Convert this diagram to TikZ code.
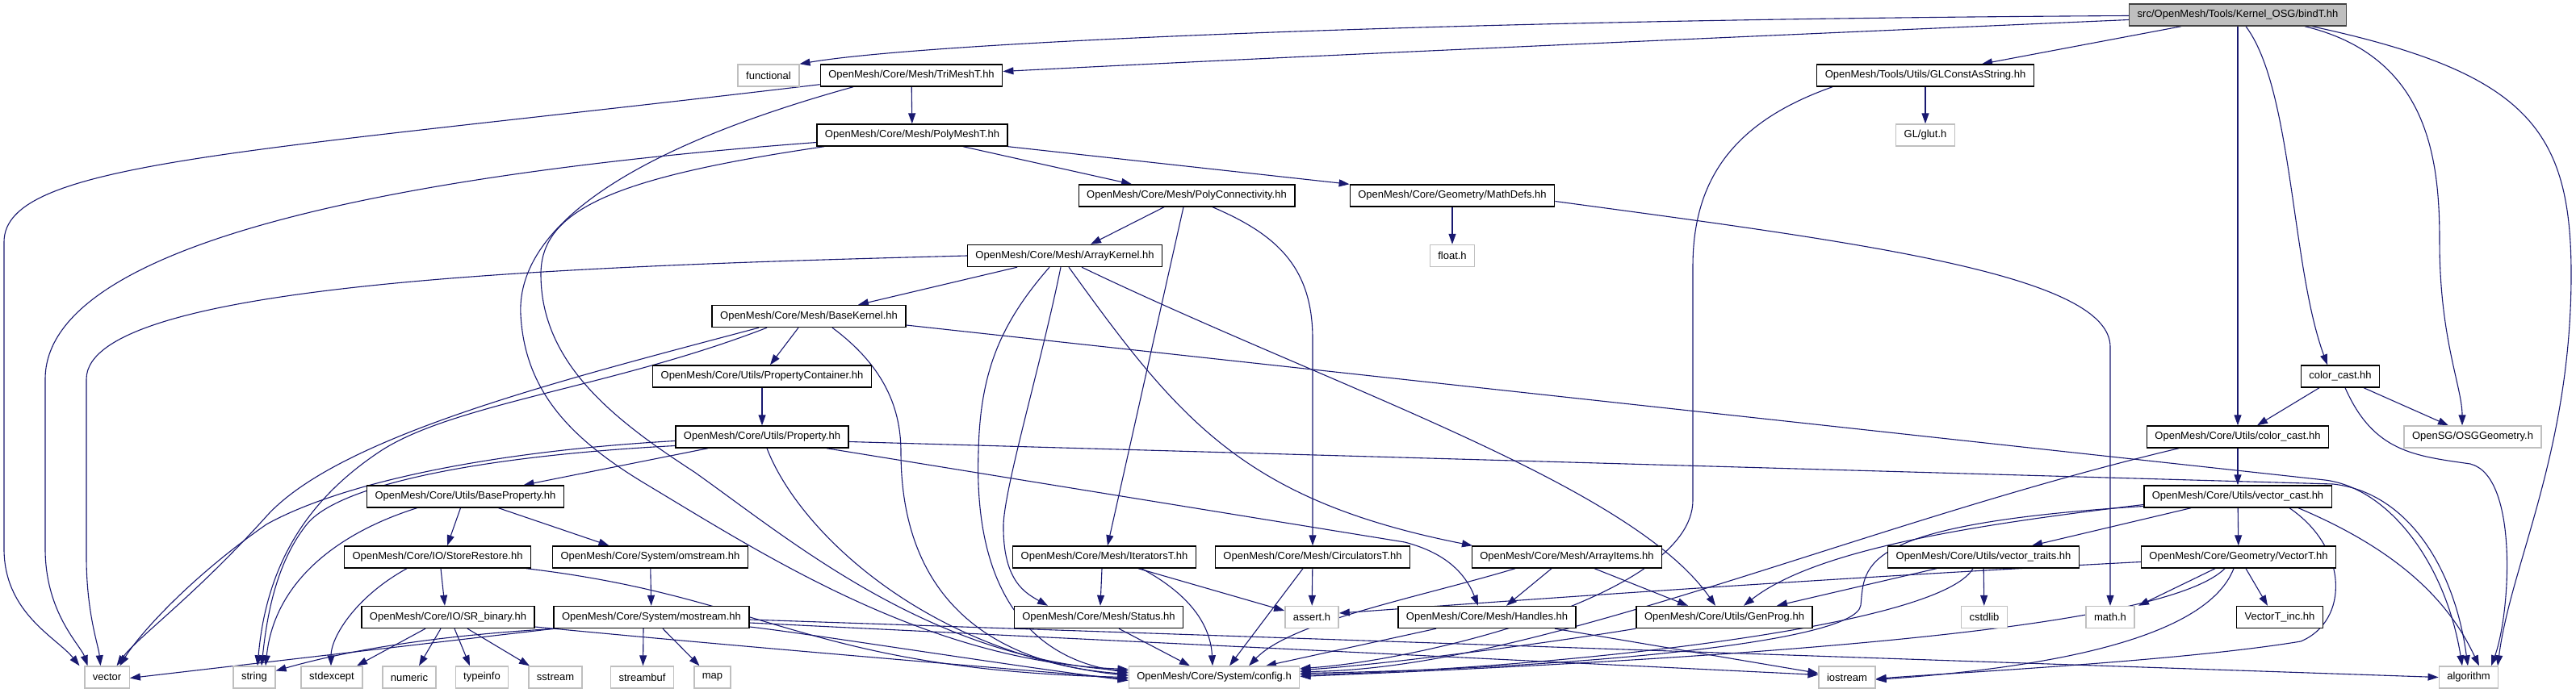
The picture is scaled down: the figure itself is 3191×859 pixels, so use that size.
\documentclass[tikz,border=0pt]{standalone}
\usepackage{fontspec}
\setmainfont{Liberation Sans}
\usetikzlibrary{arrows.meta,backgrounds}
\definecolor{depblue}{HTML}{191970}
\tikzset{
  filebox/.style={draw=black, line width=1.4pt, fill=white, minimum height=27pt, inner xsep=10pt, inner ysep=0pt, font=\fontsize{13}{15}\selectfont},
  rootbox/.style={filebox, fill=black!25, draw=black!75},
  sysbox/.style={filebox, draw=black!25},
  dep/.style={draw=depblue, line width=1.1pt, -{Triangle[length=13pt,width=9pt]}}
}

\begin{document}
\begin{tikzpicture}[x=1pt,y=-1pt]
  \useasboundingbox (0,0) rectangle (3191,859);

  \node[rootbox] (root) at (2772,18.5) {src/OpenMesh/Tools/Kernel\_OSG/bindT.hh};
  \node[sysbox] (functional) at (952,93.5) {functional};
  \node[filebox] (tri) at (1129,93.5) {OpenMesh/Core/Mesh/TriMeshT.hh};
  \node[filebox] (glconst) at (2385,93.5) {OpenMesh/Tools/Utils/GLConstAsString.hh};
  \node[filebox] (poly) at (1130,167.5) {OpenMesh/Core/Mesh/PolyMeshT.hh};
  \node[sysbox] (glut) at (2385,167.5) {GL/glut.h};
  \node[filebox] (polycon) at (1470,242.5) {OpenMesh/Core/Mesh/PolyConnectivity.hh};
  \node[filebox] (mathdefs) at (1799,242.5) {OpenMesh/Core/Geometry/MathDefs.hh};
  \node[filebox] (arraykernel) at (1319,317) {OpenMesh/Core/Mesh/ArrayKernel.hh};
  \node[sysbox] (floath) at (1799,317) {float.h};
  \node[filebox] (basekernel) at (1002,392) {OpenMesh/Core/Mesh/BaseKernel.hh};
  \node[filebox] (propcont) at (944,466.5) {OpenMesh/Core/Utils/PropertyContainer.hh};
  \node[filebox] (colorcastl) at (2899,466.5) {color\_cast.hh};
  \node[filebox] (property) at (944,541.5) {OpenMesh/Core/Utils/Property.hh};
  \node[filebox] (colorcast) at (2772,541.5) {OpenMesh/Core/Utils/color\_cast.hh};
  \node[sysbox] (osg) at (3063,541.5) {OpenSG/OSGGeometry.h};
  \node[filebox] (baseprop) at (576.5,615.5) {OpenMesh/Core/Utils/BaseProperty.hh};
  \node[filebox] (vectorcast) at (2772,615.5) {OpenMesh/Core/Utils/vector\_cast.hh};
  \node[filebox] (storerest) at (542,690.5) {OpenMesh/Core/IO/StoreRestore.hh};
  \node[filebox] (omstream) at (805.5,690.5) {OpenMesh/Core/System/omstream.hh};
  \node[filebox] (iterators) at (1368,690.5) {OpenMesh/Core/Mesh/IteratorsT.hh};
  \node[filebox] (circulators) at (1626,690.5) {OpenMesh/Core/Mesh/CirculatorsT.hh};
  \node[filebox] (arrayitems) at (1941,690.5) {OpenMesh/Core/Mesh/ArrayItems.hh};
  \node[filebox] (vectortraits) at (2457,690.5) {OpenMesh/Core/Utils/vector\_traits.hh};
  \node[filebox] (vectort) at (2773,690.5) {OpenMesh/Core/Geometry/VectorT.hh};
  \node[filebox] (srbinary) at (555,765) {OpenMesh/Core/IO/SR\_binary.hh};
  \node[filebox] (mostream) at (807,765) {OpenMesh/Core/System/mostream.hh};
  \node[filebox] (status) at (1361,765) {OpenMesh/Core/Mesh/Status.hh};
  \node[sysbox] (asserth) at (1625,765) {assert.h};
  \node[filebox] (handles) at (1842,765) {OpenMesh/Core/Mesh/Handles.hh};
  \node[filebox] (genprog) at (2136,765) {OpenMesh/Core/Utils/GenProg.hh};
  \node[sysbox] (cstdlib) at (2458,765) {cstdlib};
  \node[sysbox] (mathh) at (2614,765) {math.h};
  \node[filebox] (vectortinc) at (2824,765) {VectorT\_inc.hh};
  \node[sysbox] (vec) at (132.5,839.5) {vector};
  \node[sysbox] (str) at (315,839.5) {string};
  \node[sysbox] (stdexc) at (411,839.5) {stdexcept};
  \node[sysbox] (numeric) at (507,839.5) {numeric};
  \node[sysbox] (typeinfo) at (597,839.5) {typeinfo};
  \node[sysbox] (sstream) at (688,839.5) {sstream};
  \node[sysbox] (streambuf) at (795.5,839.5) {streambuf};
  \node[sysbox] (mapi) at (882.5,839.5) {map};
  \node[sysbox] (config) at (1504,839.5) {OpenMesh/Core/System/config.h};
  \node[sysbox] (iostream) at (2288,839.5) {iostream};
  \node[sysbox] (algo) at (3058,839.5) {algorithm};

  \begin{scope}[on background layer]
  \draw[dep] ([yshift=-1]root.west) .. controls (1800,24) and (1150,52) .. (functional.north east);
  \draw[dep] ([yshift=-6]root.west) .. controls (2100,48) and (1600,70) .. ([yshift=5]tri.east);
  \draw[dep] ([xshift=-70]root.south) -- ([xshift=70]glconst.north);
  \draw[dep] (root) -- (colorcast);
  \draw[dep] ([xshift=10]root.south) .. controls (2840,110) and (2838,330) .. ([xshift=-16]colorcastl.north);
  \draw[dep] ([xshift=83]root.south) .. controls (3010,70) and (3022,200) .. (3022,300) .. controls (3022,420) and (3050,480) .. ([xshift=-13]osg.north);
  \draw[dep] ([xshift=92]root.south) .. controls (3130,90) and (3185,160) .. (3185,340) .. controls (3185,560) and (3110,700) .. ([xshift=36]algo.north);

  \draw[dep] (tri) -- (poly);
  \draw[dep] ([yshift=3]tri.south west) .. controls (300,190) and (5,200) .. (5,300) -- (5,680) .. controls (5,760) and (70,790) .. ([xshift=-34]vec.north);
  \draw[dep] ([xshift=-72]tri.south) .. controls (760,190) and (640,290) .. (645,390) .. controls (650,480) and (700,540) .. (800,600) .. controls (950,690) and (1150,820) .. ([yshift=10]config.west);

  \draw[dep] ([yshift=-9]poly.west) .. controls (500,215) and (56,300) .. (56,470) -- (56,680) .. controls (56,760) and (100,800) .. ([xshift=-24]vec.north);
  \draw[dep] ([xshift=-109]poly.south) .. controls (760,220) and (670,260) .. (670,340) .. controls (670,450) and (760,520) .. (860,585) .. controls (980,670) and (1150,815) .. ([yshift=8]config.west);
  \draw[dep] ([xshift=63]poly.south) -- ([xshift=-68]polycon.north);
  \draw[dep] (poly.south east) -- (mathdefs.north west);

  \draw[dep] ([xshift=-28]polycon.south) -- ([xshift=32]arraykernel.north);
  \draw[dep] ([xshift=-4]polycon.south) -- ([xshift=4]iterators.north);
  \draw[dep] ([xshift=32]polycon.south) .. controls (1580,290) and (1626,330) .. (1626,420) -- (circulators);

  \draw[dep] (mathdefs) -- (floath);
  \draw[dep] ([yshift=-7]mathdefs.east) .. controls (2300,300) and (2614,340) .. (2614,430) -- (mathh);

  \draw[dep] (glconst) -- (glut);
  \draw[dep] ([xshift=-115]glconst.south) .. controls (2150,150) and (2097,220) .. (2097,330) -- (2097,620) .. controls (2097,740) and (1750,820) .. ([yshift=11]config.east);

  \draw[dep] ([xshift=-59]arraykernel.south) -- ([xshift=61]basekernel.north);
  \draw[dep] (arraykernel.west) .. controls (700,330) and (107,350) .. (107,470) -- (107,690) .. controls (107,760) and (122,800) .. ([xshift=-8]vec.north);
  \draw[dep] ([xshift=-19]arraykernel.south) .. controls (1240,400) and (1214,460) .. (1212,560) .. controls (1205,760) and (1300,820) .. ([yshift=6]config.west);
  \draw[dep] ([xshift=-5]arraykernel.south) .. controls (1290,450) and (1245,600) .. (1243,650) .. controls (1242,720) and (1270,735) .. ([xshift=-63]status.north);
  \draw[dep] ([xshift=5]arraykernel.south) .. controls (1460,520) and (1540,620) .. ([xshift=-117]arrayitems.north);
  \draw[dep] ([xshift=21]arraykernel.south) .. controls (1650,480) and (2020,600) .. ([xshift=-11]genprog.north);

  \draw[dep] ([xshift=-13]basekernel.south) -- ([xshift=10]propcont.north);
  \draw[dep] ([xshift=-62]basekernel.south) .. controls (700,470) and (420,540) .. (330,640) .. controls (240,740) and (170,790) .. ([xshift=12]vec.north);
  \draw[dep] ([xshift=-52]basekernel.south) .. controls (760,480) and (560,500) .. (470,560) .. controls (380,620) and (330,700) .. ([xshift=4]str.north);
  \draw[dep] ([xshift=29]basekernel.south) .. controls (1090,450) and (1116,500) .. (1116,560) .. controls (1116,760) and (1250,825) .. ([yshift=4]config.west);
  \draw[dep] ([yshift=-11]basekernel.east) -- (2880,595) .. controls (2960,605) and (3030,700) .. ([xshift=-8]algo.north);

  \draw[dep] (propcont) -- (property);

  \draw[dep] ([yshift=-5]property.west) .. controls (600,560) and (420,600) .. (330,650) .. controls (230,720) and (170,790) .. ([xshift=16]vec.north);
  \draw[dep] ([yshift=-11]property.west) .. controls (600,565) and (420,600) .. (380,650) .. controls (340,700) and (330,770) .. ([xshift=9]str.north);
  \draw[dep] ([xshift=-67]property.south) -- ([xshift=72]baseprop.north);
  \draw[dep] ([xshift=6]property.south) .. controls (990,660) and (1150,810) .. ([yshift=2]config.west);
  \draw[dep] ([xshift=80]property.south) -- (1740,672) .. controls (1790,685) and (1815,710) .. ([xshift=-11]handles.north);
  \draw[dep] ([yshift=-6]property.east) -- (2890,600) .. controls (2980,610) and (3040,700) .. ([xshift=-1]algo.north);

  \draw[dep] ([xshift=-60]baseprop.south) .. controls (420,660) and (340,720) .. ([xshift=14]str.north);
  \draw[dep] ([xshift=-6]baseprop.south) -- ([xshift=12]storerest.north);
  \draw[dep] ([xshift=41]baseprop.south) -- ([xshift=-51]omstream.north);

  \draw[dep] ([xshift=-38]storerest.south) .. controls (440,740) and (410,790) .. ([xshift=-1]stdexc.north);
  \draw[dep] ([xshift=4]storerest.south) -- ([xshift=-4]srbinary.north);
  \draw[dep] ([xshift=110]storerest.south) .. controls (950,740) and (1000,830) .. ([yshift=0]config.west);

  \draw[dep] (omstream) -- (mostream);

  \draw[dep] ([xshift=-28]srbinary.south) -- ([xshift=31]stdexc.north);
  \draw[dep] ([xshift=-9]srbinary.south) -- ([xshift=12]numeric.north);
  \draw[dep] ([xshift=8]srbinary.south) -- ([xshift=-15]typeinfo.north);
  \draw[dep] ([xshift=24]srbinary.south) -- ([xshift=-32]sstream.north);
  \draw[dep] ([yshift=-12]srbinary.east) .. controls (900,800) and (1200,825) .. ([yshift=-2]config.west);

  \draw[dep] ([xshift=-120]mostream.south) -- ([yshift=-1]vec.east);
  \draw[dep] ([xshift=-118]mostream.south) .. controls (500,790) and (400,815) .. ([yshift=8]str.east);
  \draw[dep] ([xshift=-10]mostream.south) -- ([xshift=1]streambuf.north);
  \draw[dep] ([xshift=14]mostream.south) -- ([xshift=-16]mapi.north);
  \draw[dep] ([yshift=-12]mostream.east) .. controls (1000,785) and (1250,825) .. ([yshift=-4]config.west);
  \draw[dep] ([yshift=-7]mostream.east) -- ([yshift=3]iostream.west);
  \draw[dep] ([yshift=-3]mostream.east) -- (algo.west);

  \draw[dep] ([xshift=-3]iterators.south) -- ([xshift=2]status.north);
  \draw[dep] ([xshift=42]iterators.south) -- ([yshift=8]asserth.west);
  \draw[dep] ([xshift=46]iterators.south) .. controls (1480,740) and (1500,780) .. ([xshift=-2]config.north);

  \draw[dep] ([xshift=-12]circulators.south) -- ([xshift=19]config.north);
  \draw[dep] (circulators) -- (asserth);

  \draw[dep] ([xshift=-64]arrayitems.south) .. controls (1760,740) and (1600,770) .. ([xshift=43]config.north);
  \draw[dep] ([xshift=-19]arrayitems.south) -- ([xshift=24]handles.north);
  \draw[dep] ([xshift=34]arrayitems.south) -- ([xshift=-45]genprog.north);

  \draw[dep] ([xshift=-63]handles.south) -- ([xshift=64]config.north);
  \draw[dep] ([xshift=84]handles.south) -- ([yshift=5]iostream.west);

  \draw[dep] ([xshift=25]status.south) -- ([xshift=-30]config.north);

  \draw[dep] (genprog.south west) .. controls (1900,800) and (1700,825) .. ([yshift=9]config.east);

  \draw[dep] ([xshift=-26]colorcastl.south) -- ([xshift=24]colorcast.north);
  \draw[dep] ([xshift=29]colorcastl.south) -- ([xshift=-30]osg.north);
  \draw[dep] ([xshift=6]colorcastl.south) .. controls (2940,560) and (2990,565) .. (3060,575) .. controls (3120,590) and (3110,760) .. ([xshift=28]algo.north);

  \draw[dep] (colorcast) -- (vectorcast);
  \draw[dep] ([xshift=-73]colorcast.south) .. controls (2300,650) and (1900,830) .. ([yshift=7]config.east);

  \draw[dep] ([yshift=-10]vectorcast.west) .. controls (2450,650) and (2250,680) .. ([xshift=24]genprog.north);
  \draw[dep] ([yshift=-12]vectorcast.west) .. controls (2300,650) and (2310,700) .. (2305,750) .. controls (2300,800) and (1900,830) .. ([yshift=5]config.east);
  \draw[dep] ([xshift=-58]vectorcast.south) -- ([xshift=60]vectortraits.north);
  \draw[dep] (vectorcast) -- (vectort);
  \draw[dep] ([xshift=64]vectorcast.south) .. controls (2910,680) and (2910,770) .. (2850,795) .. controls (2700,820) and (2400,835) .. ([yshift=-2]iostream.east);
  \draw[dep] ([xshift=75]vectorcast.south) .. controls (2990,690) and (3040,760) .. ([xshift=13]algo.north);

  \draw[dep] ([xshift=-58]vectortraits.south) -- ([xshift=65]genprog.north);
  \draw[dep] ([xshift=-13]vectortraits.south) .. controls (2400,780) and (1900,830) .. ([yshift=3]config.east);
  \draw[dep] (vectortraits) -- (cstdlib);

  \draw[dep] ([yshift=-6]vectort.west) .. controls (2200,720) and (1800,750) .. ([yshift=5]asserth.east);
  \draw[dep] ([xshift=-29]vectort.south) -- ([xshift=35]mathh.north);
  \draw[dep] ([xshift=-17]vectort.south) .. controls (2690,770) and (2300,810) .. ([yshift=1]config.east);
  \draw[dep] ([xshift=-6]vectort.south) .. controls (2730,800) and (2500,830) .. ([yshift=-3]iostream.east);
  \draw[dep] ([xshift=9]vectort.south) -- ([xshift=-15]vectortinc.north);
  \end{scope}
\end{tikzpicture}
\end{document}
